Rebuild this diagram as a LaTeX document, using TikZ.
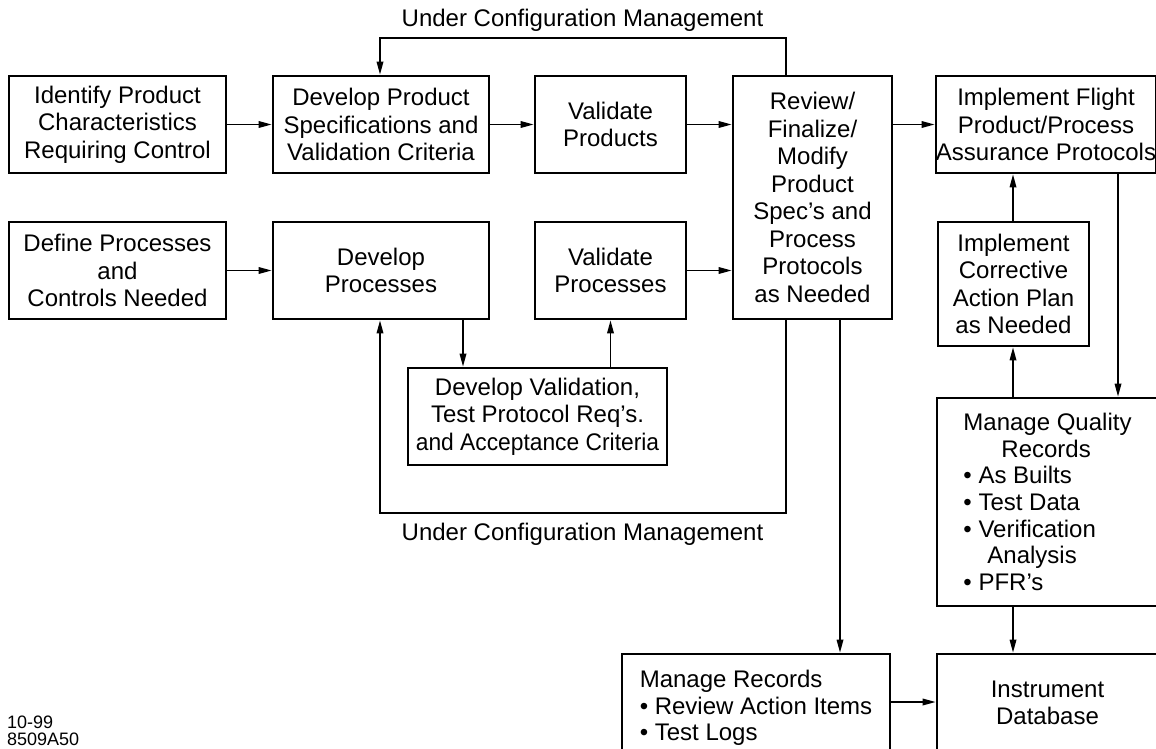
\documentclass[tikz,border=0pt]{standalone}
\usepackage{fontspec}
\setmainfont{Liberation Sans}
\usetikzlibrary{arrows.meta}
\begin{document}
\begin{tikzpicture}[x=1pt,y=-1pt,
  box/.style={draw, line width=2.6pt, inner sep=0pt, align=center,
    font=\fontsize{24}{27.5}\selectfont},
  link/.style={line width=1.7pt, -{Triangle[length=13pt,width=6.5pt]}},
  lbl/.style={inner sep=0pt, font=\fontsize{24}{27.5}\selectfont},
  tag/.style={inner sep=0pt, anchor=west, font=\fontsize{18}{18}\selectfont}]
\useasboundingbox (0,0) rectangle (1156,749);

% top row
\node[box, minimum width=217pt, minimum height=97pt] (ident) at (117.5,124.5)
  {Identify Product\\Characteristics\\Requiring Control};
\node[box, minimum width=216pt, minimum height=97pt] (devspec) at (381,124.5)
  {Develop Product\\Specifications and\\Validation Criteria};
\node[box, minimum width=151pt, minimum height=97pt] (valprod) at (610.5,124.5)
  {Validate\\Products};
\node[box, minimum width=159pt, minimum height=243pt] (review) at (812.5,197.5)
  {Review/\\Finalize/\\Modify\\Product\\Spec’s and\\Process\\Protocols\\as Needed};
\node[box, minimum width=216pt, minimum height=97pt] (flight) at (1046,124.5)
  {Implement Flight\\Product/Process\\Assurance Protocols};

% second row
\node[box, minimum width=217pt, minimum height=97pt] (defproc) at (117.5,270.5)
  {Define Processes\\and\\Controls Needed};
\node[box, minimum width=216pt, minimum height=97pt] (devproc) at (381,270.5)
  {Develop\\Processes};
\node[box, minimum width=151pt, minimum height=97pt] (valproc) at (610.5,270.5)
  {Validate\\Processes};
\node[box, minimum width=151pt, minimum height=124pt] (corrective) at (1013.5,284)
  {Implement\\Corrective\\Action Plan\\as Needed};

% validation protocol box
\node[box, minimum width=259pt, minimum height=97pt] (devval) at (537.5,416.5)
  {Develop Validation,\\Test Protocol Req’s.\\\scalebox{0.95}[1]{and Acceptance Criteria}};

% records
\node[box, align=left, minimum width=221pt, minimum height=208pt,
  font=\fontsize{24}{26.7}\selectfont] (quality) at (1047.5,502)
  {Manage Quality\\\hspace*{38pt}Records\\• As Builts\\• Test Data\\• Verification\\\hspace*{24pt}Analysis\\• PFR’s};
\node[box, align=left, minimum width=268pt, minimum height=108pt,
  font=\fontsize{24}{26.5}\selectfont] (records) at (756,708)
  {Manage Records\\• Review Action Items\\• Test Logs};
\node[box, minimum width=221pt, minimum height=98pt,
  font=\fontsize{24}{26.5}\selectfont] (instdb) at (1047.5,703)
  {Instrument\\Database};

% loop and branch positions
\coordinate (topR) at (786,38);
\coordinate (topL) at (380,38);
\coordinate (botR) at (786,513);
\coordinate (botL) at (380,513);
\coordinate (splitA) at (463,0);
\coordinate (splitB) at (840,0);
\coordinate (splitC) at (1118,0);
\coordinate (railQ) at (1013,0);
\coordinate (railR) at (0,702);

% straight flow
\draw[link] (ident) -- (devspec);
\draw[link] (devspec) -- (valprod);
\draw[link] (valprod) -- (valprod -| review.west);
\draw[link] (review.east |- flight) -- (flight.west);
\draw[link] (defproc) -- (devproc);
\draw[link] (valproc) -- (valproc -| review.west);

% configuration management loops
\draw[link] (review.north -| topR) -- (topR) -- (topL) -- (devspec.north -| topL);
\draw[link] (review.south -| botR) -- (botR) -- (botL) -- (devproc.south -| botL);

% validation branch
\draw[link] (devproc.south -| splitA) -- (devval.north -| splitA);
\draw[link] (devval.north -| valproc.south) -- (valproc.south);

% records branch
\draw[link] (review.south -| splitB) -- (records.north -| splitB);
\draw[link] (records.east |- railR) -- (instdb.west |- railR);

% right column
\draw[link] (flight.south -| splitC) -- (quality.north -| splitC);
\draw[link] (quality.north -| railQ) -- (corrective.south -| railQ);
\draw[link] (corrective.north -| railQ) -- (flight.south -| railQ);
\draw[link] (quality.south -| railQ) -- (instdb.north -| railQ);

% labels
\node[lbl] (cmtop) at (582.5,20) {Under Configuration Management};
\node[lbl] (cmbot) at (582.5,534) {Under Configuration Management};
\node[tag] (date) at (7,722) {10-99};
\node[tag] (code) at (7,739) {8509A50};
\end{tikzpicture}
\end{document}
